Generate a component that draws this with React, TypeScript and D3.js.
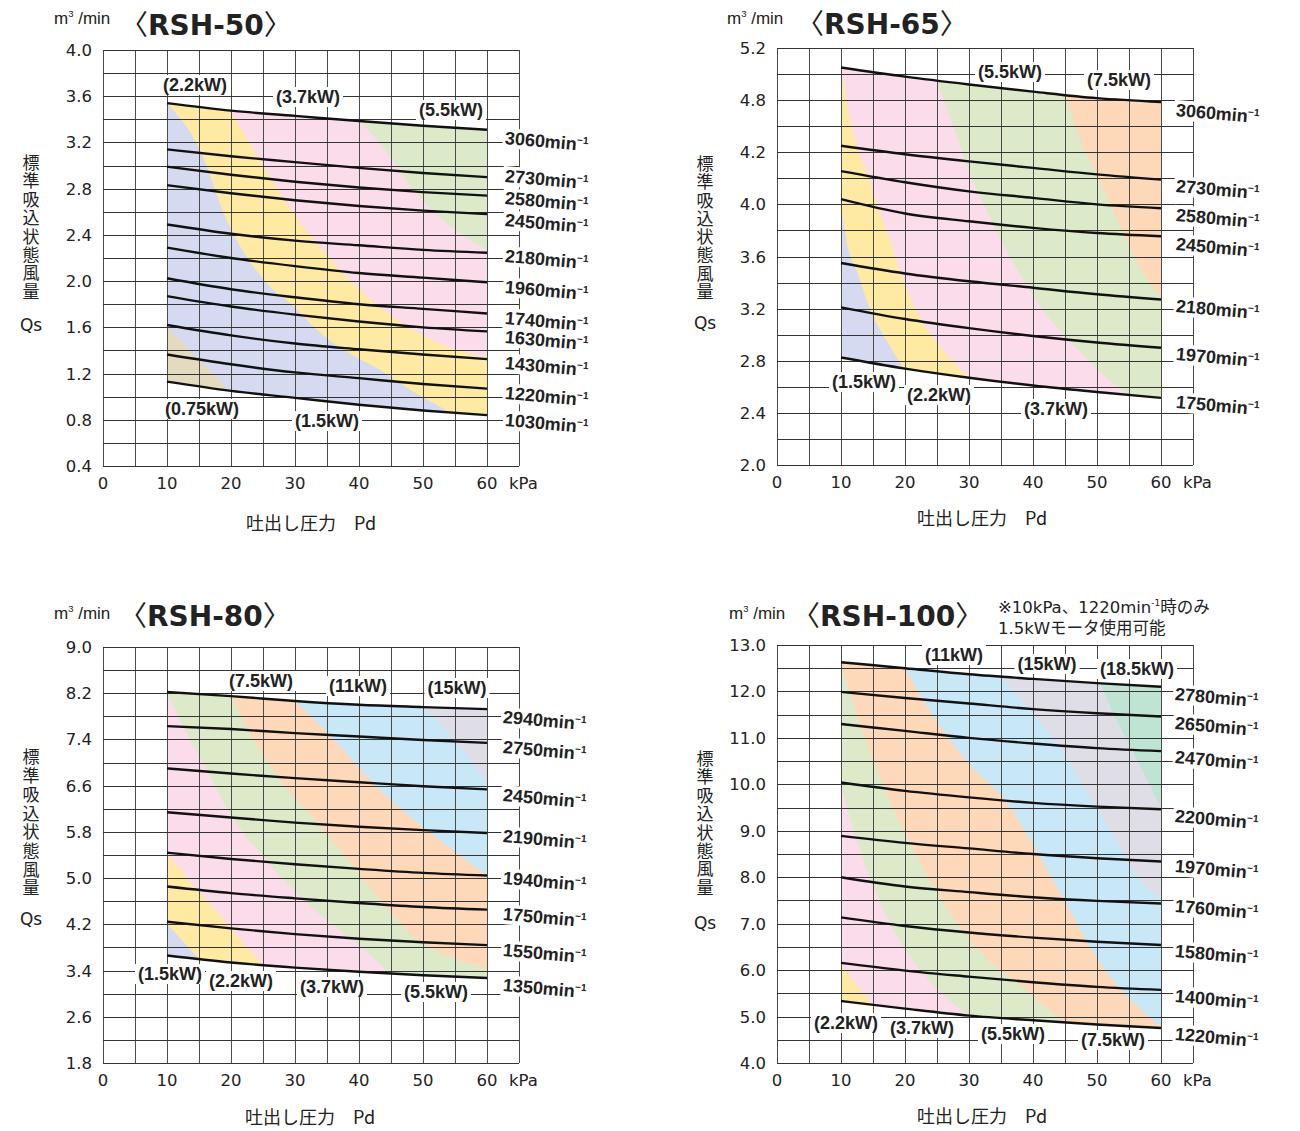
import React, { useEffect, useRef } from "react";
import * as d3 from "d3";

// ---------- shared data ----------
const PRESSURE_KPA = [10, 20, 30, 40, 50, 60];
const X_TICKS = [0, 10, 20, 30, 40, 50, 60];

// ---------- RSH-50 ----------
const RSH50_SPEEDS = ["3060", "2730", "2580", "2450", "2180", "1960", "1740", "1630", "1430", "1220", "1030"];
const RSH50_FLOWS = [
  [3.54, 3.475, 3.43, 3.385, 3.345, 3.31],
  [3.14, 3.08, 3.03, 2.98, 2.935, 2.9],
  [2.99, 2.92, 2.86, 2.81, 2.77, 2.74],
  [2.83, 2.76, 2.7, 2.65, 2.61, 2.58],
  [2.49, 2.41, 2.35, 2.31, 2.27, 2.245],
  [2.29, 2.2, 2.13, 2.07, 2.03, 1.99],
  [2.025, 1.93, 1.86, 1.8, 1.76, 1.72],
  [1.87, 1.78, 1.71, 1.65, 1.6, 1.565],
  [1.62, 1.53, 1.46, 1.41, 1.365, 1.325],
  [1.365, 1.28, 1.21, 1.16, 1.11, 1.07],
  [1.13, 1.05, 0.99, 0.93, 0.88, 0.84],
];
const RSH50_MOTORS = ["0.75kW", "1.5kW", "2.2kW", "3.7kW", "5.5kW"];
const RSH50_BOUNDARIES = [
  [[10, 1.6], [19.7, 1.052]],
  [[10, 3.54], [15.2, 3.13], [19.3, 2.53], [25.8, 1.97], [30, 1.77], [33.4, 1.58], [38, 1.39], [43.3, 1.23], [48, 1.06], [54.3, 0.863]],
  [[20, 3.475], [25, 3.0], [30, 2.57], [35, 2.22], [40, 1.93], [45, 1.7], [50, 1.53], [55, 1.41], [60, 1.34]],
  [[40, 3.385], [43.3, 3.19], [48.5, 2.79], [53.7, 2.5], [60, 2.27]],
];
const RSH50_TICKS = ["0.4", "0.8", "1.2", "1.6", "2.0", "2.4", "2.8", "3.2", "3.6", "4.0"];

// ---------- RSH-65 ----------
const RSH65_SPEEDS = ["3060", "2730", "2580", "2450", "2180", "1970", "1750"];
const RSH65_FLOWS = [
  [5.05, 4.98, 4.92, 4.865, 4.815, 4.785],
  [4.45, 4.385, 4.33, 4.28, 4.23, 4.19],
  [4.255, 4.17, 4.1, 4.05, 4.0, 3.97],
  [4.04, 3.93, 3.87, 3.82, 3.78, 3.755],
  [3.55, 3.47, 3.41, 3.36, 3.31, 3.27],
  [3.21, 3.12, 3.05, 2.99, 2.94, 2.9],
  [2.825, 2.74, 2.67, 2.61, 2.56, 2.515],
];
const RSH65_MOTORS = ["1.5kW", "2.2kW", "3.7kW", "5.5kW", "7.5kW"];
const RSH65_BOUNDARIES = [
  [[10, 4.0], [10.8, 3.73], [12.6, 3.47], [14.5, 3.2], [17.3, 2.94], [19.75, 2.745]],
  [[10, 5.05], [12, 4.52], [14, 4.25], [15.7, 3.99], [17.6, 3.73], [19.4, 3.46], [21.6, 3.2], [25, 2.94], [30, 2.67]],
  [[25, 4.95], [26.2, 4.78], [28.1, 4.52], [30, 4.255], [32.4, 3.99], [34.9, 3.73], [38, 3.46], [41.4, 3.2], [46, 2.94], [51.5, 2.67], [55, 2.537]],
  [[45, 4.84], [47.2, 4.52], [49.7, 4.255], [52.2, 3.99], [54.6, 3.73], [57.4, 3.46], [60, 3.28]],
];
const RSH65_TICKS = ["2.0", "2.4", "2.8", "3.2", "3.6", "4.0", "4.2", "4.8", "5.2"];

// ---------- RSH-80 ----------
const RSH80_SPEEDS = ["2940", "2750", "2450", "2190", "1940", "1750", "1550", "1350"];
const RSH80_FLOWS = [
  [8.22, 8.15, 8.065, 8.0, 7.96, 7.925],
  [7.63, 7.58, 7.51, 7.45, 7.39, 7.34],
  [6.9, 6.81, 6.73, 6.66, 6.59, 6.535],
  [6.14, 6.05, 5.96, 5.89, 5.83, 5.78],
  [5.44, 5.33, 5.24, 5.16, 5.09, 5.045],
  [4.855, 4.74, 4.65, 4.57, 4.5, 4.455],
  [4.245, 4.13, 4.03, 3.95, 3.89, 3.84],
  [3.66, 3.54, 3.45, 3.38, 3.32, 3.27],
];
const RSH80_MOTORS = ["1.5kW", "2.2kW", "3.7kW", "5.5kW", "7.5kW", "11kW", "15kW"];
const RSH80_BOUNDARIES = [
  [[10, 4.21], [15, 3.6]],
  [[10, 5.42], [14.3, 4.85], [19.1, 4.245], [22, 3.86], [25, 3.495]],
  [[10, 8.22], [12.5, 7.63], [16.1, 6.9], [19.7, 6.14], [24.5, 5.44], [29.3, 4.85], [35.2, 4.245], [40, 3.84], [44.8, 3.35]],
  [[20, 8.15], [22.5, 7.6], [27, 6.8], [33.5, 5.95], [38.8, 5.25], [43.5, 4.6], [48.4, 4.0], [54, 3.65], [60, 3.43]],
  [[30, 8.065], [35.2, 7.5], [43.3, 6.52], [50.6, 5.83], [55.3, 5.43], [60, 5.05]],
  [[50, 7.96], [55, 7.39], [60, 6.64]],
];
const RSH80_TICKS = ["1.8", "2.6", "3.4", "4.2", "5.0", "5.8", "6.6", "7.4", "8.2", "9.0"];

// ---------- RSH-100 ----------
const RSH100_SPEEDS = ["2780", "2650", "2470", "2200", "1970", "1760", "1580", "1400", "1220"];
const RSH100_FLOWS = [
  [12.63, 12.5, 12.37, 12.27, 12.18, 12.1],
  [11.99, 11.86, 11.74, 11.62, 11.53, 11.46],
  [11.3, 11.15, 11.0, 10.88, 10.78, 10.715],
  [10.04, 9.86, 9.72, 9.6, 9.52, 9.465],
  [8.89, 8.74, 8.62, 8.5, 8.41, 8.34],
  [8.0, 7.8, 7.68, 7.57, 7.49, 7.435],
  [7.135, 6.95, 6.81, 6.7, 6.61, 6.54],
  [6.155, 5.99, 5.86, 5.74, 5.64, 5.575],
  [5.335, 5.17, 5.02, 4.92, 4.83, 4.755],
];
const RSH100_MOTORS = ["2.2kW", "3.7kW", "5.5kW", "7.5kW", "11kW", "15kW", "18.5kW"];
const RSH100_BOUNDARIES = [
  [[10, 6.1], [15, 5.25]],
  [[10, 10.0], [12, 9.0], [14.5, 8.0], [17, 7.2], [20, 6.45], [25, 5.6], [30, 5.02]],
  [[10, 12.63], [13, 11.3], [16.5, 10.0], [20.5, 8.8], [24.5, 7.8], [29, 6.85], [34, 6.1], [38, 5.68], [41.5, 5.25], [45, 4.875]],
  [[20, 12.5], [25, 11.35], [30, 10.45], [35.6, 9.66], [43.1, 7.94], [50.9, 6.07], [60, 4.78]],
  [[35, 12.32], [39.5, 11.6], [44.2, 10.8], [49, 9.7], [52.8, 8.85], [56.7, 7.94], [60, 7.55]],
  [[50.5, 12.17], [53, 11.4], [56, 10.6], [58, 10.05], [60, 9.5]],
];
const RSH100_TICKS = ["4.0", "5.0", "6.0", "7.0", "8.0", "9.0", "10.0", "11.0", "12.0", "13.0"];
const RSH100_NOTE = ["※10kPa、1220min", "-1", "時のみ", "1.5kWモータ使用可能"];

const Y_TITLE = "標準吸込状態風量";
const X_TITLE = "吐出し圧力　Pd";

// ---------- styles ----------
const MOTOR_COLORS: Record<string, string> = {
  "0.75kW": "#e4dac0",
  "1.5kW": "#d5daf0",
  "2.2kW": "#feeaa2",
  "3.7kW": "#fbdcea",
  "5.5kW": "#dceac9",
  "7.5kW": "#fdd9ba",
  "11kW": "#c9e8f7",
  "15kW": "#dfdde6",
  "18.5kW": "#bfe4d3",
};
const KPA_PX = 6.4;
const TICK_FONT = "'DejaVu Sans', sans-serif";
const BOLD_FONT = "'Liberation Sans', Arial, sans-serif";
const CJK_FONT = "'Noto Sans CJK JP', sans-serif";

const PANELS = [
  {
    title: "RSH-50", speeds: RSH50_SPEEDS, flows: RSH50_FLOWS, motors: RSH50_MOTORS,
    boundaries: RSH50_BOUNDARIES, ticks: RSH50_TICKS, yMin: 0.4, yMax: 4.0,
    layout: {
      x0: 103, top: 50, bottom: 466, titleX: 120, titleY: 35, unitX: 54, unitY: 24,
      yTitleX: 31, yTitleTop: 154, yTitleGap: 1.4, qsY: 325, xTitleX: 246, xTitleY: 530,
      speedX: 505, speedY: [138, 176, 198, 220, 256, 287, 318, 337, 363, 393, 420],
      motorPos: [["2.2kW", 195, 85], ["3.7kW", 308, 97], ["5.5kW", 451, 110], ["0.75kW", 202, 409], ["1.5kW", 327, 421]],
    },
  },
  {
    title: "RSH-65", speeds: RSH65_SPEEDS, flows: RSH65_FLOWS, motors: RSH65_MOTORS,
    boundaries: RSH65_BOUNDARIES, ticks: RSH65_TICKS, yMin: 2.0, yMax: 5.2,
    layout: {
      x0: 777, top: 48, bottom: 465, titleX: 796, titleY: 34, unitX: 727, unitY: 24,
      yTitleX: 705, yTitleTop: 155, yTitleGap: 1.3, qsY: 323, xTitleX: 917, xTitleY: 525,
      speedX: 1176, speedY: [110, 186, 215, 244, 306, 354, 402],
      motorPos: [["5.5kW", 1010, 72], ["7.5kW", 1119, 80], ["1.5kW", 864, 382], ["2.2kW", 939, 395], ["3.7kW", 1056, 409]],
    },
  },
  {
    title: "RSH-80", speeds: RSH80_SPEEDS, flows: RSH80_FLOWS, motors: RSH80_MOTORS,
    boundaries: RSH80_BOUNDARIES, ticks: RSH80_TICKS, yMin: 1.8, yMax: 9.0,
    layout: {
      x0: 103, top: 647, bottom: 1063, titleX: 119, titleY: 626, unitX: 54, unitY: 619,
      yTitleX: 31, yTitleTop: 748.5, yTitleGap: 1.7, qsY: 919, xTitleX: 245, xTitleY: 1124,
      speedX: 503, speedY: [717, 747, 795, 836, 878, 914, 950, 985],
      motorPos: [["7.5kW", 261, 681], ["11kW", 358, 686], ["15kW", 457, 688], ["1.5kW", 170, 974], ["2.2kW", 241, 981], ["3.7kW", 332, 987], ["5.5kW", 436, 992]],
    },
  },
  {
    title: "RSH-100", speeds: RSH100_SPEEDS, flows: RSH100_FLOWS, motors: RSH100_MOTORS,
    boundaries: RSH100_BOUNDARIES, ticks: RSH100_TICKS, yMin: 4.0, yMax: 13.0,
    layout: {
      x0: 777, top: 645, bottom: 1063, titleX: 792, titleY: 626, unitX: 729, unitY: 619,
      yTitleX: 705, yTitleTop: 750, yTitleGap: 1.4, qsY: 923, xTitleX: 917, xTitleY: 1123,
      speedX: 1175, speedY: [694, 723, 757, 816, 866, 906, 951, 996, 1034],
      motorPos: [["11kW", 954, 655], ["15kW", 1047, 664], ["18.5kW", 1137, 669], ["2.2kW", 846, 1023], ["3.7kW", 922, 1028], ["5.5kW", 1013, 1034], ["7.5kW", 1113, 1040]],
    },
  },
];

function addBg(g: any, text: any, padX: number, padY: number) {
  const bb = (text.node() as SVGTextElement).getBBox();
  g.insert("rect", "text")
    .attr("x", bb.x - padX).attr("y", bb.y - padY)
    .attr("width", bb.width + padX * 2).attr("height", bb.height + padY * 2)
    .attr("fill", "#fff");
}

function draw(el: SVGSVGElement) {
  const svg = d3.select(el);
  svg.selectAll("*").remove();
  const defs = svg.append("defs");

  PANELS.forEach((p, pi) => {
    const L = p.layout;
    const x = d3.scaleLinear().domain([0, 65]).range([L.x0, L.x0 + 65 * KPA_PX]);
    const y = d3.scaleLinear().domain([p.yMin, p.yMax]).range([L.bottom, L.top]);
    const g = svg.append("g");
    const top = p.flows[0];
    const bot = p.flows[p.flows.length - 1];

    // envelope and motor zones
    const area = d3.area<number>()
      .x((d) => x(d))
      .y0((_, i) => y(bot[i]))
      .y1((_, i) => y(top[i]))
      .curve(d3.curveMonotoneX);
    const envD = area(PRESSURE_KPA) as string;
    const clipId = "env-clip-" + pi;
    defs.append("clipPath").attr("id", clipId).append("path").attr("d", envD);
    const zg = g.append("g").attr("clip-path", `url(#${clipId})`);
    zg.append("path").attr("d", envD).attr("fill", MOTOR_COLORS[p.motors[p.motors.length - 1]]);

    const bline = d3.line<number[]>().x((d) => x(d[0])).y((d) => y(d[1])).curve(d3.curveMonotoneX);
    const topScale = d3.scaleLinear().domain(PRESSURE_KPA).range(top);
    const FAR = 3000;
    for (let k = p.boundaries.length - 1; k >= 0; k--) {
      const pts = p.boundaries[k];
      const f = pts[0];
      const l = pts[pts.length - 1];
      const body = (bline(pts) as string).slice(1);
      const onTop = Math.abs(f[1] - topScale(f[0])) < 0.06;
      let d = onTop
        ? `M${-FAR},${-FAR}L${x(f[0])},${-FAR}L${body}`
        : `M${-FAR},${y(f[1])}L${body}`;
      d += `L${x(l[0])},${FAR}L${-FAR},${FAR}Z`;
      zg.append("path").attr("d", d).attr("fill", MOTOR_COLORS[p.motors[k]]);
    }

    // grid
    const grid = g.append("g").attr("fill", "none");
    for (let k = 0; k <= 65; k += 5) {
      const px = Math.round(x(k)) + 0.5;
      grid.append("line").attr("x1", px).attr("x2", px).attr("y1", L.top).attr("y2", L.bottom)
        .attr("stroke", "#4a4a4a").attr("stroke-width", 1);
    }
    const nT = p.ticks.length - 1;
    const half = (p.yMax - p.yMin) / nT / 2;
    for (let i = 0; i <= nT * 2; i++) {
      const py = Math.round(y(p.yMin + i * half)) + 0.5;
      grid.append("line").attr("x1", x(0)).attr("x2", x(65)).attr("y1", py).attr("y2", py)
        .attr("stroke", "#333").attr("stroke-width", 1);
    }

    // speed curves
    const cg = g.append("g").attr("fill", "none").attr("stroke", "#111").attr("stroke-width", 2.4);
    p.flows.forEach((fl) => {
      cg.append("path").attr("d", bline(PRESSURE_KPA.map((k, i) => [k, fl[i]])) as string);
    });

    // y tick labels
    p.ticks.forEach((t, i) => {
      g.append("text").attr("x", x(0) - 11).attr("y", y(p.yMin + i * half * 2) + 6)
        .attr("text-anchor", "end").attr("font-family", TICK_FONT).attr("font-size", 16.5)
        .attr("fill", "#222").text(t);
    });
    // x tick labels
    X_TICKS.forEach((k) => {
      g.append("text").attr("x", x(k)).attr("y", L.bottom + 23)
        .attr("text-anchor", "middle").attr("font-family", TICK_FONT).attr("font-size", 16.5)
        .attr("fill", "#222").text(String(k));
    });
    g.append("text").attr("x", x(60) + 22).attr("y", L.bottom + 23)
      .attr("font-family", TICK_FONT).attr("font-size", 16.5).attr("fill", "#222").text("kPa");

    // axis titles
    g.append("text").attr("x", L.yTitleX).attr("y", L.yTitleTop)
      .style("writing-mode", "vertical-rl")
      .attr("letter-spacing", L.yTitleGap)
      .attr("font-family", CJK_FONT).attr("font-size", 17)
      .attr("fill", "#222").text(Y_TITLE);
    g.append("text").attr("x", L.yTitleX).attr("y", L.qsY + 6).attr("text-anchor", "middle")
      .attr("font-family", TICK_FONT).attr("font-size", 17).attr("fill", "#222").text("Qs");
    g.append("text").attr("x", L.xTitleX).attr("y", L.xTitleY)
      .attr("font-family", CJK_FONT).attr("font-size", 18).attr("fill", "#222").text(X_TITLE);

    // unit and title
    const ut = g.append("text").attr("x", L.unitX).attr("y", L.unitY)
      .attr("font-family", BOLD_FONT).attr("font-size", 17).attr("fill", "#222");
    ut.append("tspan").text("m");
    ut.append("tspan").attr("font-size", 9.5).attr("dy", -7).text("3");
    ut.append("tspan").attr("dy", 7).text(" /min");

    const tt = g.append("text").attr("x", L.titleX).attr("y", L.titleY).attr("fill", "#222").attr("font-size", 28);
    tt.append("tspan").attr("font-family", CJK_FONT).attr("font-weight", 400).text("〈");
    tt.append("tspan").attr("font-family", TICK_FONT).attr("font-weight", 700).text(p.title);
    tt.append("tspan").attr("font-family", CJK_FONT).attr("font-weight", 400).text("〉");

    // motor labels
    L.motorPos.forEach(([m, mx, my]) => {
      const lg = g.append("g");
      const tx = lg.append("text").attr("x", mx as number).attr("y", (my as number) + 6)
        .attr("text-anchor", "middle").attr("font-family", BOLD_FONT).attr("font-weight", 700)
        .attr("font-size", 18).attr("fill", "#222").text(`(${m})`);
      addBg(lg, tx, 3, 0);
    });

    // speed labels
    p.speeds.forEach((s, i) => {
      const lg = g.append("g").attr("transform", `translate(${L.speedX},${L.speedY[i]}) rotate(5)`);
      const tx = lg.append("text").attr("x", 0).attr("y", 6)
        .attr("font-family", BOLD_FONT).attr("font-weight", 700).attr("font-size", 18).attr("fill", "#222");
      tx.append("tspan").text(`${s}min`);
      tx.append("tspan").attr("font-size", 10).attr("dy", -7).text("−1");
      addBg(lg, tx, 2, 0);
    });
  });

  // RSH-100 note
  const ng = svg.append("g").attr("font-family", `'DejaVu Sans', ${CJK_FONT}`).attr("font-size", 16.5).attr("fill", "#222");
  const n1 = ng.append("text").attr("x", 998).attr("y", 613);
  n1.append("tspan").text(RSH100_NOTE[0]);
  n1.append("tspan").attr("font-size", 9).attr("dy", -7).text(RSH100_NOTE[1]);
  n1.append("tspan").attr("dy", 7).text(RSH100_NOTE[2]);
  ng.append("text").attr("x", 998).attr("y", 634).text(RSH100_NOTE[3]);
}

export default function App() {
  const ref = useRef<SVGSVGElement>(null);
  useEffect(() => {
    if (ref.current) draw(ref.current);
  }, []);
  return (
    <svg
      ref={ref}
      width={1300}
      height={1131}
      style={{ position: "absolute", left: 0, top: 0, background: "#fff", display: "block" }}
    />
  );
}
